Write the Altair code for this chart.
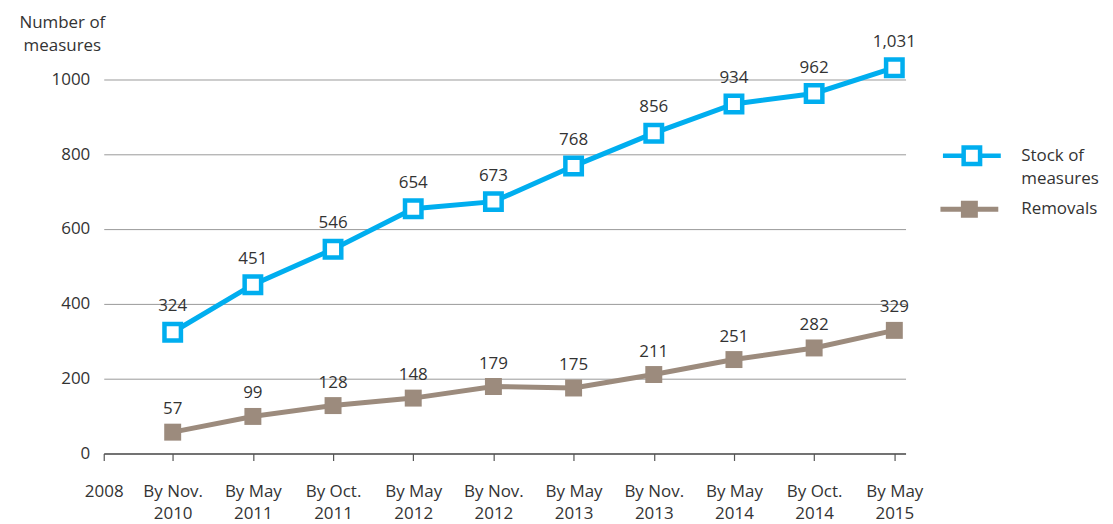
import altair as alt
import pandas as pd
import json

categories = ["2008", "By Nov.\n2010", "By May\n2011", "By Oct.\n2011", "By May\n2012",
              "By Nov.\n2012", "By May\n2013", "By Nov.\n2013", "By May\n2014",
              "By Oct.\n2014", "By May\n2015"]
stock = [324, 451, 546, 654, 673, 768, 856, 934, 962, 1031]
removals = [57, 99, 128, 148, 179, 175, 211, 251, 282, 329]
series_names = ["Stock of measures", "Removals"]

BLUE = "#00AEEF"
BROWN = "#9C8B7D"
TEXT = "#333333"
FONT = "Open Sans"

rows = []
for i, v in enumerate(stock):
    rows.append({"idx": i + 1, "value": v, "series": series_names[0]})
for i, v in enumerate(removals):
    rows.append({"idx": i + 1, "value": v, "series": series_names[1]})
df = pd.DataFrame(rows)

label_arrays = json.dumps([c.split("\n") for c in categories])
x_ticks = [0.14] + list(range(1, len(categories)))

x = alt.X("idx:Q",
          scale=alt.Scale(domain=[0.14, 10.14], nice=False, zero=False),
          axis=alt.Axis(values=x_ticks, labelExpr=f"{label_arrays}[round(datum.value)]",
                        grid=False, domainColor="#555555", domainWidth=1.5,
                        tickColor="#555555", tickWidth=1.2, tickSize=7,
                        labelFlush=False, labelOverlap=False, labelBound=False,
                        labelPadding=23, labelLineHeight=22, labelFontSize=17,
                        labelColor=TEXT, labelFont=FONT, title=None))
y = alt.Y("value:Q",
          scale=alt.Scale(domain=[0, 1050], nice=False),
          axis=alt.Axis(values=[0, 200, 400, 600, 800, 1000], grid=True, format="d",
                        gridColor="#9a9a9a", gridWidth=1, domain=False, ticks=False,
                        labelPadding=14, labelFontSize=17, labelColor=TEXT, labelFont=FONT,
                        title=["Number of", "measures"], titleAngle=0, titleAlign="center",
                        titleBaseline="top", titleX=-42, titleY=-46, titleLineHeight=23,
                        titleFontSize=17, titleFontWeight="normal", titleColor=TEXT,
                        titleFont=FONT))

base = alt.Chart(df)
stock_base = base.transform_filter(alt.datum.series == series_names[0])
rem_base = base.transform_filter(alt.datum.series == series_names[1])

stock_line = stock_base.mark_line(color=BLUE, strokeWidth=5).encode(x=x, y=y)
stock_pts = stock_base.mark_square(size=272, filled=True, fill="white", strokeWidth=4.5, opacity=1).encode(
    x=x, y=y,
    stroke=alt.Stroke("series:N", scale=alt.Scale(domain=[series_names[0]], range=[BLUE]),
                      legend=alt.Legend(title=None, orient="none", legendX=839, legendY=64,
                                        symbolType="M-1,0H-0.284M0.284,0H1M-0.284,-0.284H0.284V0.284H-0.284Z",
                                        symbolSize=3364, symbolStrokeWidth=4.5,
                                        symbolFillColor="white", labelOffset=18,
                                        labelFontSize=17, labelColor=TEXT, labelFont=FONT,
                                        labelLimit=200,
                                        labelExpr="datum.label == 'Stock of measures' ? ['Stock of', 'measures'] : datum.label")))
stock_txt = stock_base.mark_text(dy=-26, fontSize=17, color=TEXT, font=FONT).encode(
    x=x, y=y, text=alt.Text("value:Q", format=","))

rem_line = rem_base.mark_line(color=BROWN, strokeWidth=5).encode(x=x, y=y)
rem_pts = rem_base.mark_square(size=289, filled=True, opacity=1).encode(
    x=x, y=y,
    fill=alt.Fill("series:N", scale=alt.Scale(domain=[series_names[1]], range=[BROWN]),
                  legend=alt.Legend(title=None, orient="none", legendX=839, legendY=120,
                                    symbolType="M-1,-0.086H1V0.086H-1ZM-0.293,-0.293H0.293V0.293H-0.293Z",
                                    symbolSize=3364, symbolStrokeWidth=0,
                                    labelOffset=23, labelFontSize=17, labelColor=TEXT,
                                    labelFont=FONT, labelLimit=200)))
rem_txt = rem_base.mark_text(dy=-23, fontSize=17, color=TEXT, font=FONT).encode(
    x=x, y=y, text=alt.Text("value:Q", format=","))

chart = alt.layer(stock_line, rem_line, stock_pts, rem_pts, stock_txt, rem_txt).resolve_scale(
    stroke="independent", fill="independent"
).properties(
    width=804, height=394,
    autosize=alt.AutoSizeParams(type="none"),
    padding={"left": 96, "top": 52, "right": 200, "bottom": 70},
).configure(
    font=FONT, style={"guide-label": {"lineHeight": 23}}
).configure_view(strokeWidth=0, stroke="transparent")

chart.save("out.html", embed_options={"renderer": "svg", "actions": False})
